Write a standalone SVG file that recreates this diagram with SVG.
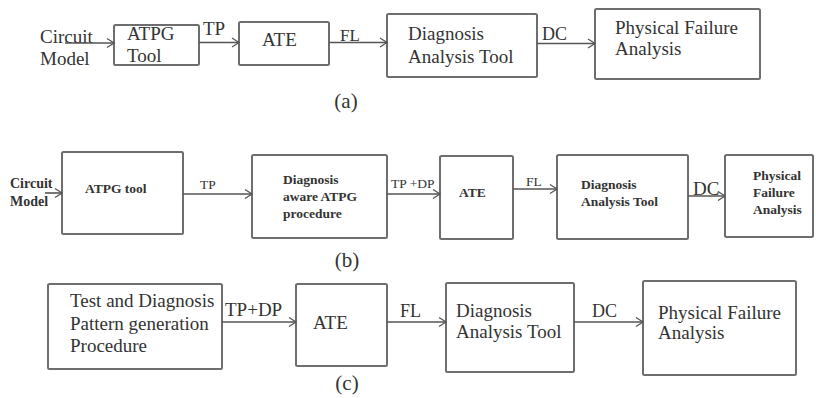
<svg xmlns="http://www.w3.org/2000/svg" width="816" height="398" viewBox="0 0 816 398" font-family="'Liberation Serif', 'DejaVu Serif', serif">
  <defs>
    <marker id="arrow" markerUnits="userSpaceOnUse" markerWidth="12" markerHeight="12" refX="9" refY="6" orient="auto">
      <path d="M2,1.5 L9,6 L2,10.5" fill="none" stroke="#555" stroke-width="1.3"/>
    </marker>
    <style>
      .box { fill: #fff; stroke: #6e6e6e; stroke-width: 2; }
      .edge { fill: none; stroke: #555; stroke-width: 1.6; marker-end: url(#arrow); }
      text { font-family: 'Liberation Serif', 'DejaVu Serif', serif; fill: #333; }
      .t { font-size: 19px; }
      .b { font-size: 13.5px; font-weight: bold; }
      .s { font-size: 13.5px; }
      .cap { font-size: 21px; text-anchor: middle; }
    </style>
  </defs>
  <rect width="816" height="398" fill="#fff"/>

  <!-- Row (a) -->
  <g id="a-input"><text class="t" x="40" y="43">Circuit</text><text class="t" x="40" y="65">Model</text></g>
  <g id="a-atpg"><rect class="box" x="114" y="25" width="85" height="40" rx="1.5"/><text class="t" x="127" y="40">ATPG</text><text class="t" x="127" y="62">Tool</text></g>
  <g id="a-ate"><rect class="box" x="239" y="22" width="90" height="43" rx="1.5"/><text class="t" x="262" y="46">ATE</text></g>
  <g id="a-diag"><rect class="box" x="387" y="14" width="150" height="63" rx="1.5"/><text class="t" x="408" y="40">Diagnosis</text><text class="t" x="408" y="63">Analysis Tool</text></g>
  <g id="a-pfa"><rect class="box" x="595" y="9" width="165" height="70" rx="1.5"/><text class="t" x="615" y="34">Physical Failure</text><text class="t" x="615" y="55">Analysis</text></g>
  <g id="a-connectors">
    <path class="edge" d="M65,43 H114"/>
    <path class="edge" d="M199,42.5 H239"/>
    <path class="edge" d="M329,42.5 H387"/>
    <path class="edge" d="M537,43.5 H595"/>
    <text class="t" x="203" y="35">TP</text>
    <text class="t" x="340" y="41" style="font-size:17px">FL</text>
    <text class="t" x="542" y="40" style="font-size:18px">DC</text>
  </g>
  <text class="cap" x="346" y="108">(a)</text>

  <!-- Row (b) -->
  <g id="b-input"><text class="b" x="10" y="188" style="font-size:14px">Circuit</text><text class="b" x="10" y="206" style="font-size:14px">Model</text></g>
  <g id="b-atpg"><rect class="box" x="62" y="152" width="121" height="82" rx="1.5"/><text class="b" x="85" y="193">ATPG tool</text></g>
  <g id="b-daatpg"><rect class="box" x="252" y="155" width="135" height="83" rx="1.5"/><text class="b" x="283" y="184">Diagnosis</text><text class="b" x="283" y="201">aware ATPG</text><text class="b" x="283" y="218">procedure</text></g>
  <g id="b-ate"><rect class="box" x="440" y="156" width="73" height="83" rx="1.5"/><text class="b" x="459" y="197">ATE</text></g>
  <g id="b-diag"><rect class="box" x="557" y="155" width="131" height="84" rx="1.5"/><text class="b" x="581" y="189">Diagnosis</text><text class="b" x="581" y="206">Analysis Tool</text></g>
  <g id="b-pfa"><rect class="box" x="725" y="155" width="88" height="82" rx="1.5"/><text class="b" x="753" y="180">Physical</text><text class="b" x="753" y="197">Failure</text><text class="b" x="753" y="214">Analysis</text></g>
  <g id="b-connectors">
    <path class="edge" d="M45,193 H62"/>
    <path class="edge" d="M183,194 H252"/>
    <path class="edge" d="M387,194 H440"/>
    <path class="edge" d="M513,189 H557"/>
    <path class="edge" d="M688,196 H725"/>
    <text class="s" x="200" y="189">TP</text>
    <text class="s" x="391" y="188">TP +DP</text>
    <text class="s" x="526" y="186">FL</text>
    <text class="t" x="693" y="195">DC</text>
  </g>
  <text class="cap" x="347" y="267">(b)</text>

  <!-- Row (c) -->
  <g id="c-tdpg"><rect class="box" x="48" y="284" width="174" height="85" rx="1.5"/><text class="t" x="70" y="307">Test and Diagnosis</text><text class="t" x="70" y="330">Pattern generation</text><text class="t" x="70" y="352">Procedure</text></g>
  <g id="c-ate"><rect class="box" x="296" y="284" width="91" height="82" rx="1.5"/><text class="t" x="313" y="329">ATE</text></g>
  <g id="c-diag"><rect class="box" x="446" y="283" width="128" height="89" rx="1.5"/><text class="t" x="456" y="317">Diagnosis</text><text class="t" x="456" y="338">Analysis Tool</text></g>
  <g id="c-pfa"><rect class="box" x="643" y="281" width="153" height="94" rx="1.5"/><text class="t" x="658" y="319">Physical Failure</text><text class="t" x="658" y="339">Analysis</text></g>
  <g id="c-connectors">
    <path class="edge" d="M222,322 H296"/>
    <path class="edge" d="M387,322 H446"/>
    <path class="edge" d="M574,322 H643"/>
    <text class="t" x="225" y="316">TP+DP</text>
    <text class="t" x="400" y="317" style="font-size:18px">FL</text>
    <text class="t" x="592" y="317" style="font-size:18px">DC</text>
  </g>
  <text class="cap" x="347" y="390">(c)</text>
</svg>
